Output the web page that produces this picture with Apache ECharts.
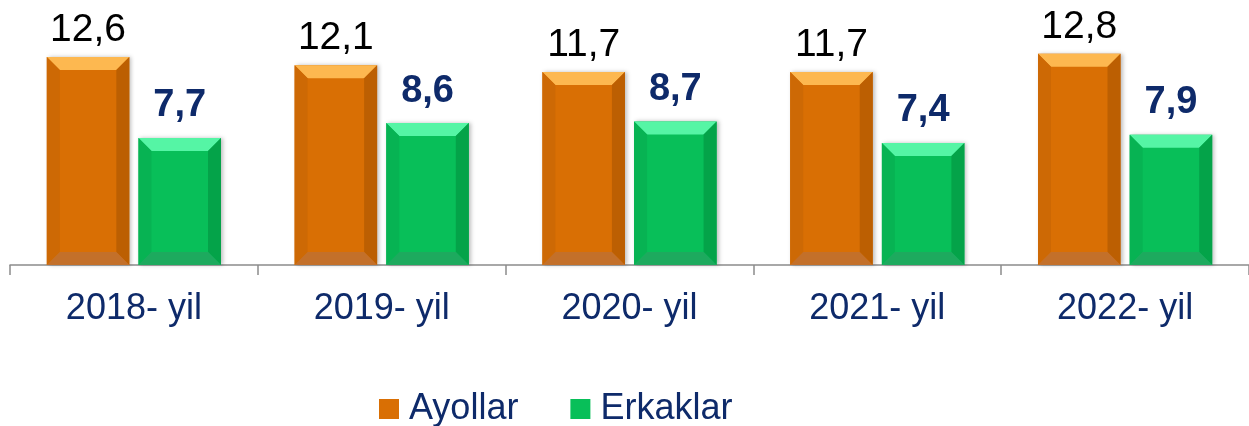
<!DOCTYPE html>
<html>
<head>
<meta charset="utf-8">
<script src="https://cdn.jsdelivr.net/npm/echarts@6/dist/echarts.min.js"></script>
<style>
  html, body { margin: 0; padding: 0; background: #fff; }
  #chart { width: 1249px; height: 426px; }
</style>
</head>
<body>
<div id="chart"></div>
<script>
const categories = ['2018- yil', '2019- yil', '2020- yil', '2021- yil', '2022- yil']
const ayollar = [12.6, 12.1, 11.7, 11.7, 12.8]
const erkaklar = [7.7, 8.6, 8.7, 7.4, 7.9]

const font = 'Liberation Sans, Arial, sans-serif'
const navy = '#0E2A6A'

// bevel colours: body, top, left, right, bottom
const palettes = [
  { body: '#D96F04', top: '#FDB850', left: '#CD6905', right: '#BC5F02', bottom: '#C3702A' },
  { body: '#08BF59', top: '#55F5A5', left: '#07B353', right: '#04A349', bottom: '#1DAA5E' }
]

const fmt = v => v.toFixed(1).replace('.', ',')

function bevelBar(idx) {
  const pal = palettes[idx]
  return function (params, api) {
    const x = api.value(0)
    const v = api.value(1)
    const top = api.coord([x, v])
    const base = api.coord([x, 0])
    const band = api.size([1, 0])[0]
    const w = band * 0.333
    const offset = band * 0.185 * (idx === 0 ? -1 : 1)
    const x0 = top[0] + offset - w / 2
    const x1 = x0 + w
    const y0 = top[1]
    const y1 = base[1]
    const b = Math.min(13, w / 2, (y1 - y0) / 2)
    const label = idx === 0
      ? { text: fmt(v), fill: '#000', font: 'normal 39px ' + font, dy: 27 }
      : { text: fmt(v), fill: navy, font: 'bold 38px ' + font, dy: 32 }
    return {
      type: 'group',
      children: [
        { type: 'rect', shape: { x: x0, y: y0, width: w, height: y1 - y0 },
          style: { fill: pal.body, shadowColor: 'rgba(0,0,0,0.25)', shadowBlur: 4, shadowOffsetX: 2 } },
        { type: 'polygon', shape: { points: [[x0, y0], [x1, y0], [x1 - b, y0 + b], [x0 + b, y0 + b]] },
          style: { fill: pal.top } },
        { type: 'polygon', shape: { points: [[x0, y0], [x0 + b, y0 + b], [x0 + b, y1 - b], [x0, y1]] },
          style: { fill: pal.left } },
        { type: 'polygon', shape: { points: [[x1, y0], [x1, y1], [x1 - b, y1 - b], [x1 - b, y0 + b]] },
          style: { fill: pal.right } },
        { type: 'polygon', shape: { points: [[x0, y1], [x0 + b, y1 - b], [x1 - b, y1 - b], [x1, y1]] },
          style: { fill: pal.bottom } },
        { type: 'text',
          style: { x: (x0 + x1) / 2, y: y0 - label.dy, text: label.text, fill: label.fill,
                   font: label.font, textAlign: 'center', textVerticalAlign: 'middle' } }
      ]
    }
  }
}

const chart = echarts.init(document.getElementById('chart'))

chart.setOption({
  animation: false,
  grid: { left: 10, width: 1245, top: 34, height: 231 },
  legend: {
    left: 379,
    top: 391,
    padding: 0,
    itemWidth: 20,
    itemHeight: 20,
    itemGap: 52,
    icon: 'rect',
    textStyle: { fontFamily: font, fontSize: 36, color: navy, padding: [0, 0, 0, 5] },
    data: ['Ayollar', 'Erkaklar']
  },
  xAxis: {
    type: 'category',
    data: categories,
    axisLine: { lineStyle: { color: '#8C8C8C', width: 1.5 } },
    axisTick: { show: true, interval: 0, length: 10, lineStyle: { color: '#8C8C8C', width: 1.5 } },
    axisLabel: { fontFamily: font, fontSize: 36, color: navy, margin: 26 }
  },
  yAxis: { type: 'value', min: 0, max: 14, show: false },
  series: [
    {
      name: 'Ayollar',
      type: 'custom',
      itemStyle: { color: palettes[0].body },
      renderItem: bevelBar(0),
      data: ayollar.map((v, i) => [i, v])
    },
    {
      name: 'Erkaklar',
      type: 'custom',
      itemStyle: { color: palettes[1].body },
      renderItem: bevelBar(1),
      data: erkaklar.map((v, i) => [i, v])
    }
  ]
})
</script>
</body>
</html>
